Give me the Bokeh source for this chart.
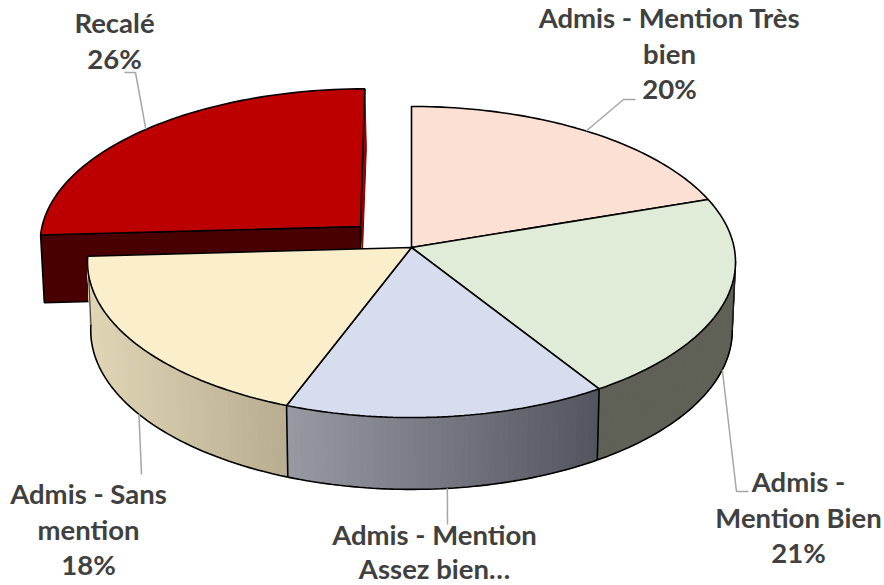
import math
from bokeh.plotting import figure
from bokeh.models import Range1d
from bokeh.core.properties import value
from bokeh.embed import file_html
from bokeh.resources import INLINE

# ---- data -------------------------------------------------------------
categories = ["Admis - Mention Très bien", "Admis - Mention Bien",
              "Admis - Mention Assez bien", "Admis - Sans mention", "Recalé"]
shares = [19.8, 21.2, 14.75, 18.35, 25.9]
label_lines = [["Admis - Mention Très", "bien", "20%"],
               ["Admis -", "Mention Bien", "21%"],
               ["Admis - Mention", "Assez bien…"],
               ["Admis - Sans", "mention", "18%"],
               ["Recalé", "26%"]]
top_colors = ["#fbe0d3", "#e0ebd8", "#d8dcef", "#fbefcb", "#bc0000"]
side_left = ["#5f6156", "#5f6156", "#979aa3", "#e0d5b5", "#480000"]
side_right = ["#5f6156", "#5f6156", "#52555e", "#b8ad8f", "#480000"]

# ---- projection of the tilted pie (homography of the unit circle) -------
CX, CY, A, B, K = 411.0, 247.0, 322.6, 154.2, 0.0933
EXPLODE = (-0.16, 0.138)
HIDDEN_UNTIL = 95.0   # rim angle where the wall becomes visible


def top(u, v):
    w = 1 + K * v
    return CX + A * u / w, CY - B * v / w


def bottom(u, v):
    x, y = top(u, v)
    return CX + 0.99 * (x - CX), y + 68.0 - 3.8 * v


def rim(th, off=(0.0, 0.0)):
    r = math.radians(th)
    return math.sin(r) + off[0], math.cos(r) + off[1]


def arc(a0, a1, n=60):
    return [a0 + (a1 - a0) * i / n for i in range(n + 1)]


p = figure(width=884, height=585, x_range=Range1d(0, 884), y_range=Range1d(585, 0),
           output_backend="svg", toolbar_location=None, min_border=0,
           x_axis_location=None, y_axis_location=None, outline_line_color=None)
p.xgrid.visible = False
p.ygrid.visible = False

edges = [0.0]
for s in shares:
    edges.append(edges[-1] + s * 3.6)
EDGE = "#000000"
LW = 1.6


def mix(c0, c1, t):
    a = [int(c0[i:i + 2], 16) for i in (1, 3, 5)]
    b = [int(c1[i:i + 2], 16) for i in (1, 3, 5)]
    return "#%02x%02x%02x" % tuple(round(a[i] + (b[i] - a[i]) * t) for i in range(3))


# ---- exploded slice: cut faces, then its top --------------------------
i = 4
a0, a1 = edges[i], edges[i + 1]
apex = EXPLODE
pt, pa = rim(0.0, EXPLODE), apex
sx = [top(*pt)[0], top(*pt)[0] + 1.5, bottom(*pa)[0] + 1.5, top(*pa)[0]]
sy = [top(*pt)[1], top(*pt)[1] + 60, top(*pa)[1] + 23, top(*pa)[1]]
p.patch(sx, sy, fill_color="#a00000", line_color="#7a0000", line_width=1)
pl = rim(a0, EXPLODE)
fx = [top(*pl)[0], top(*pa)[0], bottom(*pa)[0], bottom(*pl)[0]]
fy = [top(*pl)[1], top(*pa)[1], bottom(*pa)[1], bottom(*pl)[1]]
p.patch(fx, fy, fill_color=side_left[i], line_color=EDGE, line_width=LW)
tx, ty = zip(*[top(*apex)] + [top(*rim(t, EXPLODE)) for t in arc(a0, a1)])
p.patch(list(tx), list(ty), fill_color=top_colors[i], line_color=EDGE, line_width=LW)

# ---- side walls of the main pie -----------------------------------------
for i in range(1, 4):
    a0, a1 = edges[i], edges[i + 1]
    ths = arc(max(a0, HIDDEN_UNTIL), a1, 48)
    xs_all = [top(*rim(t))[0] for t in ths]
    xmin, xmax = min(xs_all), max(xs_all)
    for t0, t1 in zip(ths[:-1], ths[1:]):
        q0, q1 = rim(t0), rim(t1)
        xs = [top(*q0)[0], top(*q1)[0], bottom(*q1)[0], bottom(*q0)[0]]
        ys = [top(*q0)[1], top(*q1)[1], bottom(*q1)[1], bottom(*q0)[1]]
        f = (top(*q0)[0] + top(*q1)[0]) / 2
        c = mix(side_left[i], side_right[i], (f - xmin) / (xmax - xmin))
        p.patch(xs, ys, fill_color=c, line_color=c, line_width=1)
    bx, by = zip(*[bottom(*rim(t)) for t in ths])
    p.line(list(bx), list(by), line_color=EDGE, line_width=LW)
    if i > 1:
        q = rim(a0)
        p.line([top(*q)[0], bottom(*q)[0]], [top(*q)[1], bottom(*q)[1]],
               line_color=EDGE, line_width=LW)
# silhouettes of the wall, right and left
q = rim(HIDDEN_UNTIL)
p.line([top(*q)[0], bottom(*q)[0]], [top(*q)[1], bottom(*q)[1]],
       line_color="#1c1c1c", line_width=LW)
q = rim(edges[4])
p.line([top(*q)[0], bottom(*q)[0]], [top(*q)[1], bottom(*q)[1]],
       line_color="#4a4a40", line_width=1.2)

# ---- top faces of the main pie ------------------------------------------
for i in range(4):
    a0, a1 = edges[i], edges[i + 1]
    tx, ty = zip(*[top(0, 0)] + [top(*rim(t)) for t in arc(a0, a1)])
    p.patch(list(tx), list(ty), fill_color=top_colors[i], line_color=EDGE, line_width=LW)

# ---- labels and their leader lines --------------------------------------
label_pos = [(669, 17), (798, 481), (434, 534), (88, 493), (114, 22)]
line_h = [35.7, 35.7, 34.0, 35.7, 35.7]
elbows = [[(623, 99), (635, 99)], [(736, 491), (748, 491)], [(447, 524)],
          [(141, 474)], [(135, 72), (124, 72)]]
for i, lines in enumerate(label_lines):
    mid = (edges[i] + edges[i + 1]) / 2
    if i == 0:
        start = top(*rim(mid))
    elif i == 4:
        start = top(*rim(mid, EXPLODE))
    else:
        start = bottom(*rim(mid))
    path = [start] + elbows[i]
    p.line([c[0] for c in path], [c[1] for c in path], line_color="#a6a6a6", line_width=1.5)
    x0, y0 = label_pos[i]
    p.text([x0] * len(lines), [y0 + line_h[i] * k for k in range(len(lines))], text=lines,
           text_font=value("Lato"), text_font_style="bold", text_font_size="27.5px",
           text_color="#404040", text_align="center", text_baseline="middle")

open("out.html", "w").write(file_html(p, INLINE))
